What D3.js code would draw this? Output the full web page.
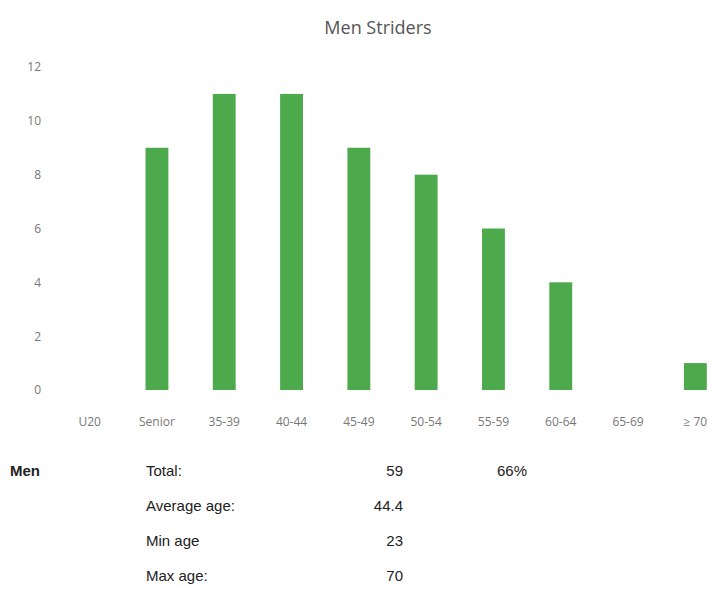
<!DOCTYPE html>
<html>
<head>
<meta charset="utf-8">
<script src="https://cdn.jsdelivr.net/npm/d3@7"></script>
<style>
  body { margin: 0; background: #fff; }
  svg { display: block; }
</style>
</head>
<body>
<script>
// age groups and number of men in each
var categories = ["U20", "Senior", "35-39", "40-44", "45-49", "50-54", "55-59", "60-64", "65-69", "\u2265 70"];
var counts = [0, 9, 11, 11, 9, 8, 6, 4, 0, 1];
var yTicks = [0, 2, 4, 6, 8, 10, 12];

// summary table under the chart
var statLabels = ["Total:", "Average age:", "Min age", "Max age:"];
var statValues = ["59", "44.4", "23", "70"];
var totalShare = "66%";

var width = 714, height = 589;

var svg = d3.select("body").append("svg")
    .attr("width", width)
    .attr("height", height);

var x = d3.scaleBand()
    .domain(categories)
    .range([56, 729])
    .paddingInner(0.66)
    .paddingOuter(0.33);

var y = d3.scaleLinear()
    .domain([0, 12])
    .range([390, 67]);

svg.append("text")
    .attr("x", 378)
    .attr("y", 34)
    .attr("text-anchor", "middle")
    .style("font-family", "'Open Sans', sans-serif")
    .style("font-size", "18px")
    .style("fill", "#555")
    .text("Men Striders");

var yAxis = svg.append("g")
    .attr("transform", "translate(41,0)")
    .call(d3.axisLeft(y).tickValues(yTicks).tickSize(0).tickPadding(0));
yAxis.select(".domain").remove();
yAxis.selectAll("text")
    .style("font-family", "'Open Sans', sans-serif")
    .style("font-size", "12px")
    .style("fill", "#777");

var xAxis = svg.append("g")
    .attr("transform", "translate(0,417)")
    .call(d3.axisBottom(x).tickSize(0).tickPadding(0));
xAxis.select(".domain").remove();
xAxis.selectAll("text")
    .style("font-family", "'Open Sans', sans-serif")
    .style("font-size", "12px")
    .style("fill", "#777");

svg.selectAll("rect.bar")
    .data(counts)
    .enter().append("rect")
    .attr("class", "bar")
    .attr("x", function(d, i) { return x(categories[i]); })
    .attr("width", x.bandwidth())
    .attr("y", function(d) { return y(d); })
    .attr("height", function(d) { return y(0) - y(d); })
    .style("fill", "#4caa4c");

var font = "'Liberation Sans', Arial, sans-serif";

svg.append("text")
    .attr("x", 10)
    .attr("y", 476)
    .style("font-family", font)
    .style("font-size", "15px")
    .style("font-weight", "bold")
    .style("fill", "#222")
    .text("Men");

var rows = svg.selectAll("g.row")
    .data(statLabels)
    .enter().append("g")
    .attr("class", "row")
    .attr("transform", function(d, i) { return "translate(0," + (476 + i * 35) + ")"; });

rows.append("text")
    .attr("x", 146)
    .style("font-family", font)
    .style("font-size", "15px")
    .style("fill", "#222")
    .text(function(d) { return d; });

rows.append("text")
    .attr("x", 403)
    .attr("text-anchor", "end")
    .style("font-family", font)
    .style("font-size", "15px")
    .style("fill", "#222")
    .text(function(d, i) { return statValues[i]; });

svg.append("text")
    .attr("x", 497)
    .attr("y", 476)
    .style("font-family", font)
    .style("font-size", "15px")
    .style("fill", "#222")
    .text(totalShare);
</script>
</body>
</html>
